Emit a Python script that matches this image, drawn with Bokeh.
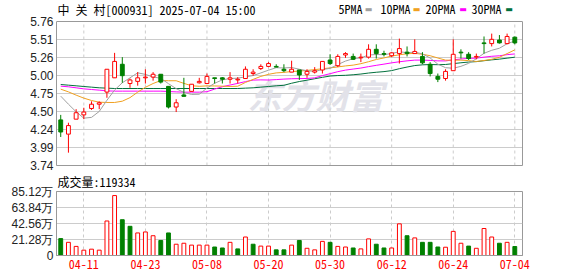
from bokeh.plotting import figure
from bokeh.models import (Range1d, FixedTicker, CustomJSTickFormatter, Label, ColumnDataSource,
                          LinearAxis, Span, Title)
from bokeh.layouts import column
from bokeh.embed import file_html
from bokeh.resources import INLINE

stock_title = "中 关 村[000931] 2025-07-04 15:00"
volume_title = "成交量:119334"

dates = ["04-08", "04-09", "04-10", "04-11", "04-14", "04-15", "04-16", "04-17", "04-18", "04-21",
         "04-22", "04-23", "04-24", "04-25", "04-28", "04-29", "04-30", "05-06", "05-07", "05-08",
         "05-09", "05-12", "05-13", "05-14", "05-15", "05-16", "05-19", "05-20", "05-21", "05-22",
         "05-23", "05-26", "05-27", "05-28", "05-29", "05-30", "06-03", "06-04", "06-05", "06-06",
         "06-09", "06-10", "06-11", "06-12", "06-13", "06-16", "06-17", "06-18", "06-19", "06-20",
         "06-23", "06-24", "06-25", "06-26", "06-27", "06-30", "07-01", "07-02", "07-03", "07-04"]

opens = [4.38, 4.18, 4.39, 4.45, 4.54, 4.60, 4.77, 4.97, 5.16, 4.89,
         4.92, 4.97, 4.98, 5.02, 4.85, 4.56, 4.73, 4.78, 4.90, 4.89,
         4.97, 4.97, 4.95, 4.94, 4.96, 5.03, 5.10, 5.13, 5.13, 5.09,
         5.05, 5.08, 5.02, 5.05, 5.08, 5.22, 5.14, 5.29, 5.27, 5.25,
         5.26, 5.37, 5.31, 5.28, 5.31, 5.33, 5.31, 5.27, 5.16, 4.99,
         4.96, 5.07, 5.33, 5.30, 5.26, 5.46, 5.45, 5.50, 5.45, 5.54]
highs = [4.45, 4.34, 4.53, 4.55, 4.64, 4.64, 5.09, 5.32, 5.26, 4.96,
         5.05, 5.09, 5.05, 5.02, 4.85, 4.67, 4.97, 4.88, 4.97, 5.03,
         4.97, 4.98, 5.05, 4.98, 5.13, 5.09, 5.16, 5.19, 5.16, 5.16,
         5.21, 5.08, 5.09, 5.12, 5.20, 5.30, 5.30, 5.33, 5.31, 5.31,
         5.44, 5.44, 5.35, 5.33, 5.52, 5.41, 5.51, 5.33, 5.19, 5.03,
         5.09, 5.51, 5.37, 5.33, 5.31, 5.55, 5.59, 5.57, 5.59, 5.55]
lows = [4.14, 3.92, 4.39, 4.39, 4.52, 4.53, 4.69, 4.97, 4.90, 4.83,
        4.86, 4.89, 4.93, 4.89, 4.54, 4.49, 4.71, 4.78, 4.89, 4.89,
        4.89, 4.89, 4.89, 4.89, 4.96, 5.00, 5.08, 5.12, 5.12, 5.05,
        5.05, 4.94, 4.97, 5.03, 5.03, 5.15, 5.12, 5.25, 5.22, 5.19,
        5.24, 5.24, 5.27, 5.26, 5.17, 5.27, 5.31, 5.16, 4.99, 4.91,
        4.93, 5.07, 5.24, 5.22, 5.23, 5.31, 5.41, 5.45, 5.44, 5.44]
closes = [4.21, 4.30, 4.48, 4.49, 4.60, 4.62, 5.09, 5.20, 5.00, 4.94,
          4.97, 4.98, 5.02, 4.91, 4.56, 4.62, 4.71, 4.88, 4.92, 4.99,
          4.96, 4.95, 4.97, 4.95, 5.09, 5.05, 5.13, 5.17, 5.12, 5.07,
          5.09, 5.01, 5.06, 5.07, 5.20, 5.17, 5.27, 5.31, 5.23, 5.26,
          5.37, 5.31, 5.30, 5.32, 5.38, 5.31, 5.34, 5.18, 5.03, 4.95,
          5.06, 5.30, 5.32, 5.24, 5.27, 5.45, 5.51, 5.46, 5.55, 5.46]
prev_close = 4.40

# volume in 万手
volumes = [22.5, 17.5, 12.1, 7.1, 8.4, 7.1, 45.9, 79.7, 47.6, 38.8,
           30.0, 31.3, 26.3, 20.0, 30.0, 15.0, 16.3, 13.8, 13.8, 13.8,
           11.3, 10.0, 17.5, 8.8, 24.6, 15.0, 12.5, 12.5, 7.5, 7.5,
           13.8, 20.0, 9.6, 7.5, 18.8, 17.5, 12.1, 11.3, 10.0, 8.8,
           22.1, 15.0, 10.0, 10.0, 42.1, 26.3, 23.4, 17.5, 17.5, 11.3,
           11.0, 32.1, 16.3, 12.5, 9.6, 35.9, 24.6, 16.3, 17.5, 11.9334]

ma5 = [4.713, 4.600, 4.493, 4.404, 4.415, 4.498, 4.655, 4.798, 4.901, 4.970,
       5.040, 5.018, 4.982, 4.963, 4.888, 4.818, 4.765, 4.737, 4.740, 4.826,
       4.894, 4.941, 4.960, 4.965, 4.984, 5.002, 5.039, 5.077, 5.112, 5.108,
       5.115, 5.090, 5.070, 5.059, 5.086, 5.103, 5.156, 5.205, 5.238, 5.250,
       5.290, 5.297, 5.294, 5.312, 5.335, 5.324, 5.330, 5.306, 5.248, 5.162,
       5.112, 5.104, 5.131, 5.173, 5.237, 5.314, 5.356, 5.385, 5.448, 5.486]
ma10 = [4.811, 4.773, 4.727, 4.685, 4.652, 4.628, 4.624, 4.624, 4.642, 4.692,
        4.769, 4.837, 4.890, 4.932, 4.929, 4.929, 4.892, 4.859, 4.851, 4.857,
        4.856, 4.853, 4.849, 4.852, 4.905, 4.948, 4.990, 5.019, 5.039, 5.046,
        5.058, 5.064, 5.074, 5.085, 5.097, 5.109, 5.123, 5.137, 5.148, 5.168,
        5.196, 5.227, 5.249, 5.275, 5.293, 5.307, 5.313, 5.300, 5.280, 5.248,
        5.218, 5.217, 5.218, 5.211, 5.199, 5.213, 5.230, 5.258, 5.310, 5.362]
ma20 = [4.853, 4.844, 4.830, 4.815, 4.806, 4.797, 4.787, 4.783, 4.783, 4.783,
        4.783, 4.783, 4.783, 4.783, 4.778, 4.773, 4.769, 4.769, 4.769, 4.775,
        4.812, 4.845, 4.869, 4.892, 4.917, 4.938, 4.941, 4.939, 4.945, 4.952,
        4.957, 4.959, 4.961, 4.969, 5.001, 5.028, 5.056, 5.078, 5.093, 5.107,
        5.127, 5.145, 5.162, 5.180, 5.195, 5.208, 5.218, 5.219, 5.214, 5.208,
        5.207, 5.222, 5.234, 5.243, 5.246, 5.260, 5.272, 5.279, 5.295, 5.305]
ma30 = [4.876, 4.867, 4.858, 4.848, 4.839, 4.830, 4.825, 4.820, 4.820, 4.820,
        4.820, 4.820, 4.820, 4.820, 4.820, 4.820, 4.820, 4.820, 4.820, 4.820,
        4.820, 4.820, 4.820, 4.820, 4.825, 4.830, 4.839, 4.848, 4.858, 4.865,
        4.894, 4.918, 4.937, 4.957, 4.977, 4.995, 5.002, 5.005, 5.013, 5.023,
        5.037, 5.048, 5.057, 5.071, 5.098, 5.121, 5.142, 5.152, 5.156, 5.154,
        5.157, 5.169, 5.181, 5.191, 5.197, 5.210, 5.222, 5.232, 5.246, 5.259]

price_ticks = [3.74, 3.9925, 4.245, 4.4975, 4.75, 5.0025, 5.255, 5.5075, 5.76]
price_tick_labels = ["3.74", "3.99", "4.24", "4.50", "4.75", "5.00", "5.26", "5.51", "5.76"]
vol_ticks = [0, 21.28, 42.56, 63.84, 85.12]
vol_tick_labels = ["0", "21.28万", "42.56万", "63.84万", "85.12万"]
date_tick_idx = [3, 11, 19, 27, 35, 43, 51, 59]

ma_names = ["5PMA", "10PMA", "20PMA", "30PMA"]
ma_colors = ["#a0a0a0", "#f0a020", "#ff00ff", "#00703c"]

RED = "#ff0000"
GREEN = "#008000"
GRID = "#cccccc"
BORDER = "#999999"
MONO = "Noto Sans Mono CJK SC"
SANS = "Liberation Sans"

# layout (pixels)
W = 578
LEFT, RIGHT = 56, 56
P1_H, P1_BOTTOM = 172, 7          # price canvas: frame from top edge to y=165
PRICE_PX = 144                    # price panel height (y 21..165)
P2_H, P2_TOP, P2_BOTTOM = 104, 15, 21   # volume canvas y 172..276, frame y 187..255

price_lo, price_hi = price_ticks[0], price_ticks[-1]
vol_lo, vol_hi = vol_ticks[0], vol_ticks[-1]
p1_frame = P1_H - P1_BOTTOM
price_top = price_lo + (price_hi - price_lo) * p1_frame / PRICE_PX

n = len(dates)
idx = list(range(n))
up = [c >= o for o, c in zip(opens, closes)]
csrc = ColumnDataSource(dict(
    x=idx, high=highs, low=lows,
    top=[max(o, c) for o, c in zip(opens, closes)],
    bottom=[min(o, c) for o, c in zip(opens, closes)],
    line=[RED if u else GREEN for u in up],
    fill=["#ffffff" if u else GREEN for u in up]))
prevs = [prev_close] + closes[:-1]
vup = [c >= p for c, p in zip(closes, prevs)]
vsrc = ColumnDataSource(dict(
    x=idx, vol=volumes,
    line=[RED if u else GREEN for u in vup],
    fill=["#ffffff" if u else GREEN for u in vup]))

fmt_code = """
let best = 0, d = 1e9;
for (let i = 0; i < vals.length; i++) {
  const e = Math.abs(vals[i] - tick);
  if (e < d) { d = e; best = i; }
}
return labels[best];
"""

xr = Range1d(-0.55, 60.0)


def plain_axis(p, side, lo, hi):
    ax = LinearAxis(ticker=FixedTicker(ticks=[]), bounds=(lo, hi), axis_line_color=BORDER,
                    major_tick_out=0, major_tick_in=0, major_label_standoff=0,
                    major_tick_line_color=None, minor_tick_line_color=None)
    p.add_layout(ax, side)


def style_y(p, ticks, labels):
    p.background_fill_color = "white"
    p.border_fill_color = "white"
    ax = p.yaxis[0]
    ax.ticker = FixedTicker(ticks=ticks)
    ax.formatter = CustomJSTickFormatter(args=dict(vals=ticks, labels=labels), code=fmt_code)
    ax.axis_line_color = BORDER
    ax.major_tick_line_color = None
    ax.minor_tick_line_color = None
    ax.major_tick_out = 0
    ax.major_tick_in = 0
    ax.major_label_standoff = 3
    ax.major_label_text_font = SANS
    ax.major_label_text_font_size = "12px"
    ax.major_label_text_color = "#222222"
    p.ygrid.ticker = FixedTicker(ticks=ticks)
    p.ygrid.grid_line_color = GRID


# ---------------- price panel ----------------
p1 = figure(width=W, height=P1_H, x_range=xr, y_range=Range1d(price_lo, price_top),
            x_axis_location=None, output_backend="svg", toolbar_location=None,
            title=None, min_border_left=LEFT, min_border_right=RIGHT,
            min_border_top=0, min_border_bottom=P1_BOTTOM)
style_y(p1, price_ticks, price_tick_labels)
p1.outline_line_color = None
p1.yaxis[0].bounds = (price_lo, price_hi)
p1.xgrid.visible = False
plain_axis(p1, "right", price_lo, price_hi)
plain_axis(p1, "below", xr.start, xr.end)
p1.add_layout(Span(location=price_hi, dimension="width", line_color=BORDER, line_width=1))
p1.segment(x0=date_tick_idx, y0=[price_lo] * len(date_tick_idx), x1=date_tick_idx,
           y1=[price_hi] * len(date_tick_idx), line_color=GRID, line_dash="3 3", line_width=1)

wm = Label(x=191, y=71, x_units="screen", y_units="screen", text="东方财富",
           text_font="Noto Sans CJK SC", text_font_size="34px", text_font_style="bold italic",
           text_color="#e2e2e9", text_baseline="middle", text_align="left", level="underlay")
p1.add_layout(wm)

for ma, col in zip([ma30, ma20, ma10, ma5], ma_colors[::-1]):
    p1.line(idx, ma, line_color=col, line_width=1)

p1.segment(x0="x", y0="low", x1="x", y1="high", source=csrc, line_color="line", line_width=1)
p1.vbar(x="x", width=0.5, top="top", bottom="bottom", source=csrc,
        fill_color="fill", line_color="line", line_width=1)

p1.add_layout(Label(x=1, y=p1_frame - 9, x_units="screen", y_units="screen", text=stock_title,
                    text_font=MONO, text_font_size="12px", text_color="#000000",
                    text_baseline="middle", text_align="left"))
legend_text_x = [282, 324, 369, 415]
legend_mark_x = [312, 360, 406.5, 452.5]
for name, col, tx, mx in zip(ma_names, ma_colors, legend_text_x, legend_mark_x):
    p1.add_layout(Label(x=tx, y=p1_frame - 8, x_units="screen", y_units="screen", text=name,
                        text_font=MONO, text_font_size="12px", text_color="#000000",
                        text_baseline="middle", text_align="left"))
    p1.add_layout(Label(x=mx, y=p1_frame - 9, x_units="screen", y_units="screen", text="▬",
                        text_font="DejaVu Sans", text_font_size="8px", text_color=col,
                        text_baseline="middle", text_align="center"))

# ---------------- volume panel ----------------
vtitle = Title(text=volume_title, align="left", text_font=MONO, text_font_size="12px",
               text_font_style="normal", text_color="#000000", standoff=0, offset=1,
               vertical_align="top")
p2 = figure(width=W, height=P2_H, x_range=xr, y_range=Range1d(vol_lo, vol_hi),
            output_backend="svg", toolbar_location=None, title=vtitle,
            min_border_left=LEFT, min_border_right=RIGHT, min_border_top=P2_TOP,
            min_border_bottom=P2_BOTTOM)
style_y(p2, vol_ticks, vol_tick_labels)
p2.outline_line_color = BORDER
p2.xgrid.ticker = FixedTicker(ticks=date_tick_idx)
p2.xgrid.grid_line_color = GRID
p2.xgrid.grid_line_dash = "3 3"
xa = p2.xaxis[0]
xa.ticker = FixedTicker(ticks=date_tick_idx)
xa.formatter = CustomJSTickFormatter(args=dict(dates=dates), code="return dates[Math.round(tick)];")
xa.axis_line_color = BORDER
xa.major_tick_line_color = None
xa.minor_tick_line_color = None
xa.major_tick_out = 0
xa.major_tick_in = 0
xa.major_label_standoff = 4
xa.major_label_text_font = MONO
xa.major_label_text_font_size = "12px"
xa.major_label_text_color = RED

p2.vbar(x="x", width=0.5, top="vol", bottom=0, source=vsrc,
        fill_color="fill", line_color="line", line_width=1)

layout = column(p1, p2, spacing=0)
open("out.html", "w").write(file_html(layout, INLINE))
